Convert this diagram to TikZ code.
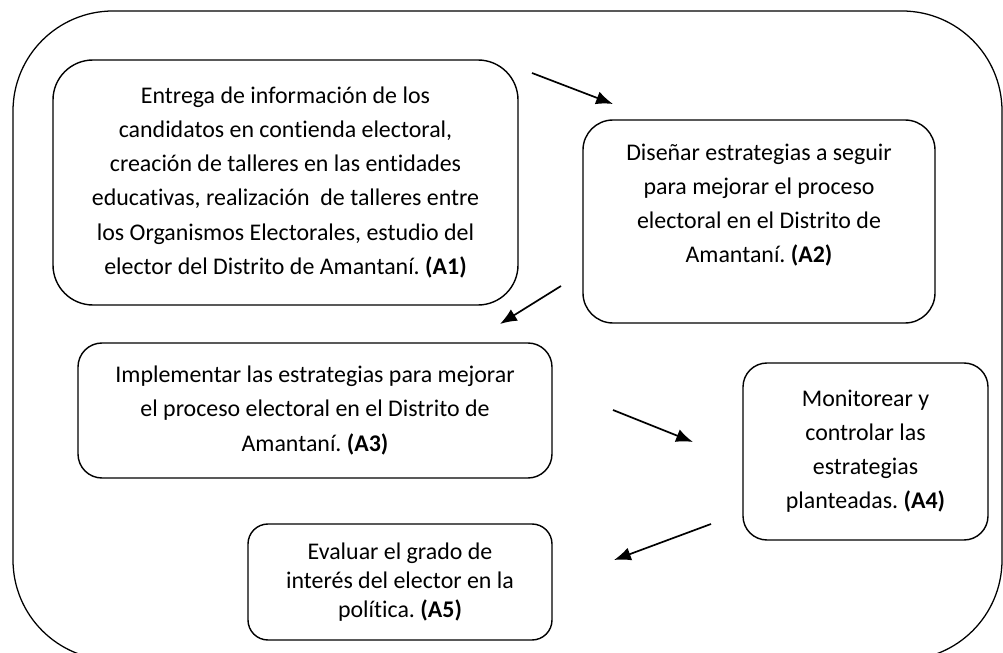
\documentclass[tikz,border=0pt]{standalone}
\usepackage{fontspec}
\setmainfont[Ligatures=NoCommon]{Carlito}
\usetikzlibrary{arrows.meta}
\frenchspacing
\begin{document}
\begin{tikzpicture}[>={Latex[length=12pt,width=9.5pt]},
  caja/.style={draw, line width=1pt, align=center, font=\fontsize{17}{24.2}\selectfont},
  flecha/.style={->, line width=1.2pt}]
\useasboundingbox (0,0) rectangle (25.075,16.3);
\draw[line width=0.9pt, rounded corners=2.5cm] (0.325,-0.2) rectangle (25.05,16.025);

\node[caja, rounded corners=1cm, minimum width=11.625cm, minimum height=6.125cm] (a1) at (7.1375,11.7375)
  {Entrega de información de los\\ candidatos en contienda electoral,\\ creación de talleres en las entidades\\ educativas, realización\ \ de talleres entre\\ los Organismos Electorales, estudio del\\ elector del Distrito de Amantaní. \textbf{(A1)}};
\node[caja, rounded corners=0.75cm, minimum width=8.8cm, minimum height=5.075cm, text depth=0.92cm] (a2) at (18.975,10.7625)
  {Diseñar estrategias a seguir\\ para mejorar el proceso\\ electoral en el Distrito de\\ Amantaní. \textbf{(A2)}};
\node[caja, rounded corners=0.6cm, minimum width=11.85cm, minimum height=3.375cm] (a3) at (7.875,6.0375)
  {Implementar las estrategias para mejorar\\ el proceso electoral en el Distrito de\\ Amantaní. \textbf{(A3)}};
\node[caja, rounded corners=0.6cm, minimum width=6.125cm, minimum height=4.425cm] (a4) at (21.6375,5.0125)
  {Monitorear y\\ controlar las\\ estrategias\\ planteadas. \textbf{(A4)}};
\node[caja, rounded corners=0.5cm, minimum width=7.6cm, minimum height=2.9cm, font=\fontsize{17}{20.6}\selectfont] (a5) at (10,1.75)
  {Evaluar el grado de\\ interés del elector en la\\ política. \textbf{(A5)}};

% flechas entre las cajas
\coordinate (f1a) at (13.3,14.475);  \coordinate (f1b) at (15.325,13.7);
\coordinate (f2a) at (14.025,9.15);  \coordinate (f2b) at (12.5,8.2);
\coordinate (f3a) at (15.325,6.05);  \coordinate (f3b) at (17.325,5.25);
\coordinate (f4a) at (17.775,3.2);   \coordinate (f4b) at (15.35,2.3);
\foreach \i in {1,...,4}
{
   \draw[flecha] (f\i a)--(f\i b);
}
\end{tikzpicture}
\end{document}
